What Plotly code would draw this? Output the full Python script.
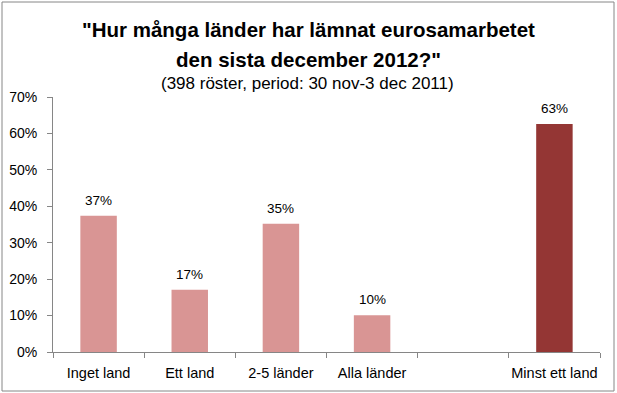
import plotly.graph_objects as go

categories = ["Inget land", "Ett land", "2-5 länder", "Alla länder", " ", "Minst ett land"]
values = [0.374, 0.171, 0.352, 0.101, None, 0.626]
bar_colors = ["#D99594", "#D99594", "#D99594", "#D99594", "#D99594", "#943634"]
y_ticks = [0, 0.1, 0.2, 0.3, 0.4, 0.5, 0.6, 0.7]
y_tick_labels = ["0%", "10%", "20%", "30%", "40%", "50%", "60%", "70%"]

title_line1 = "\"Hur många länder har lämnat eurosamarbetet"
title_line2 = "den sista december 2012?\""
subtitle = "(398 röster, period: 30 nov-3 dec 2011)"

FONT = "Liberation Sans"

fig = go.Figure()
fig.add_trace(go.Bar(
    x=categories, y=values,
    marker=dict(color=bar_colors, line=dict(width=0)),
    width=0.4,
    cliponaxis=False,
    hoverinfo="skip",
))

L, R, T, B = 53, 17, 97, 41
W, H = 617, 393
pw = W - L - R
ph = H - T - B

def px_x(p):
    return (p - L) / pw

def px_y(p):
    return (H - B - p) / ph

annotations = [
    dict(text="<b>" + title_line1 + "</b>", xref="paper", yref="paper",
         x=px_x(308), y=px_y(29), showarrow=False,
         xanchor="center", yanchor="middle",
         font=dict(family=FONT, size=20.5, color="#000000")),
    dict(text="<b>" + title_line2 + "</b>", xref="paper", yref="paper",
         x=px_x(308), y=px_y(59), showarrow=False,
         xanchor="center", yanchor="middle",
         font=dict(family=FONT, size=20.5, color="#000000")),
    dict(text=subtitle, xref="paper", yref="paper",
         x=px_x(307), y=px_y(83), showarrow=False,
         xanchor="center", yanchor="middle",
         font=dict(family=FONT, size=17, color="#000000")),
]
for c, v in zip(categories, values):
    if v is None:
        continue
    annotations.append(dict(
        text=f"{round(v * 100)}%", xref="x", yref="y", x=c, y=v,
        showarrow=False, xanchor="center", yanchor="bottom", yshift=6,
        font=dict(family=FONT, size=13.5, color="#000000"),
    ))

fig.update_layout(
    width=W, height=H,
    margin=dict(l=L, r=R, t=T, b=B, pad=0, autoexpand=False),
    paper_bgcolor="white", plot_bgcolor="white",
    showlegend=False,
    bargap=0.6,
    font=dict(family=FONT, size=13, color="#000000"),
    xaxis=dict(
        type="category",
        categoryorder="array", categoryarray=categories,
        tickson="boundaries",
        ticks="outside", ticklen=5, tickcolor="#868686",
        showline=True, linecolor="#868686", linewidth=1,
        showgrid=False, zeroline=False,
        tickangle=0, automargin=False, ticklabelstandoff=8,
        tickfont=dict(family=FONT, size=14.5, color="#000000"),
        fixedrange=True,
    ),
    yaxis=dict(
        range=[0, 0.7],
        tickvals=y_ticks, ticktext=y_tick_labels,
        ticks="outside", ticklen=5, tickcolor="#868686",
        showline=True, linecolor="#868686", linewidth=1,
        showgrid=False, zeroline=False, automargin=False, ticklabelstandoff=7,
        tickfont=dict(family=FONT, size=14, color="#000000"),
        fixedrange=True,
    ),
    shapes=[dict(
        type="rect", xref="paper", yref="paper",
        x0=px_x(2), x1=px_x(614), y0=px_y(391), y1=px_y(2),
        line=dict(color="#868686", width=1), fillcolor="rgba(0,0,0,0)",
        layer="below",
    )],
    annotations=annotations,
)

fig.write_html(
    "out.html",
    config={"displayModeBar": False},
    post_script="document.body.style.margin='0';document.body.style.overflow='hidden';",
)
